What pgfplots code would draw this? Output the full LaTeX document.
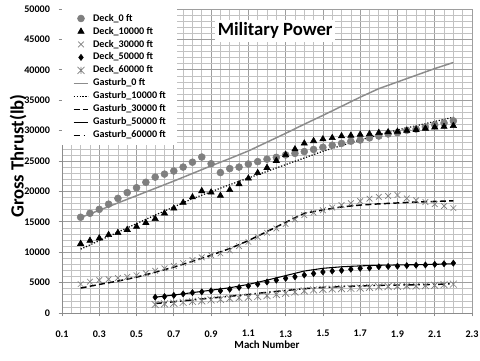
\documentclass[border=0pt]{standalone}
\usepackage{pgfplots}
\pgfplotsset{compat=1.18}
\usepackage{fontspec}
\setmainfont{Carlito}

% Excel-style "star" marker: an X crossed by a vertical stroke
\pgfdeclareplotmark{xstar}{%
  \pgfpathmoveto{\pgfqpoint{-\pgfplotmarksize}{-\pgfplotmarksize}}%
  \pgfpathlineto{\pgfqpoint{\pgfplotmarksize}{\pgfplotmarksize}}%
  \pgfpathmoveto{\pgfqpoint{-\pgfplotmarksize}{\pgfplotmarksize}}%
  \pgfpathlineto{\pgfqpoint{\pgfplotmarksize}{-\pgfplotmarksize}}%
  \pgfpathmoveto{\pgfqpoint{0pt}{-\pgfplotmarksize}}%
  \pgfpathlineto{\pgfqpoint{0pt}{\pgfplotmarksize}}%
  \pgfusepathqstroke}

\definecolor{markgray}{HTML}{7F7F7F}
\definecolor{linegray}{HTML}{8C8C8C}

% Deck results (Mach, gross thrust in lb)
\pgfplotstableread{
M T
0.20 15750
0.25 16400
0.30 17050
0.35 17900
0.40 18850
0.45 19800
0.50 20600
0.55 21500
0.60 22350
0.65 22850
0.70 23350
0.75 24000
0.80 24800
0.85 25650
0.90 24550
0.95 23100
1.00 23750
1.05 24000
1.10 24500
1.15 24900
1.20 25300
1.25 25600
1.30 26000
1.35 26250
1.40 26550
1.45 26900
1.50 27250
1.55 27600
1.60 27900
1.65 28250
1.70 28450
1.75 28800
1.80 29100
1.85 29450
1.90 29650
1.95 30050
2.00 30250
2.05 30600
2.10 30950
2.15 31250
2.20 31600
}\deckzero

\pgfplotstableread{
M T
0.20 11400
0.25 11900
0.30 12300
0.35 12850
0.40 13200
0.45 13700
0.50 14200
0.55 14850
0.60 15500
0.65 16400
0.70 17200
0.75 18150
0.80 19050
0.85 20070
0.90 19850
0.95 19300
1.00 20250
1.05 21200
1.10 22150
1.15 23050
1.20 23900
1.25 25050
1.30 26000
1.35 26950
1.40 27900
1.45 28300
1.50 28600
1.55 28800
1.60 29100
1.65 29200
1.70 29350
1.75 29450
1.80 29650
1.85 29750
1.90 29850
1.95 30000
2.00 30150
2.05 30350
2.10 30550
2.15 30650
2.20 30800
}\deckten

\pgfplotstableread{
M T
0.20 4750
0.25 5150
0.30 5400
0.35 5550
0.40 5750
0.45 5950
0.50 6200
0.55 6550
0.60 6950
0.65 7350
0.70 7750
0.75 8200
0.80 8700
0.85 9150
0.90 9500
0.95 9800
1.00 10300
1.05 11000
1.10 11700
1.15 12500
1.20 13200
1.25 13900
1.30 14650
1.35 15400
1.40 16100
1.45 16500
1.50 16900
1.55 17350
1.60 17750
1.65 18050
1.70 18400
1.75 18800
1.80 19100
1.85 19250
1.90 19400
1.95 18850
2.00 18550
2.05 18250
2.10 17900
2.15 17600
2.20 17250
}\deckthirty

\pgfplotstableread{
M T
0.60 2600
0.65 2700
0.70 2900
0.75 3150
0.80 3350
0.85 3480
0.90 3650
0.95 3650
1.00 3900
1.05 4200
1.10 4450
1.15 4750
1.20 5100
1.25 5400
1.30 5700
1.35 5950
1.40 6250
1.45 6500
1.50 6750
1.55 6900
1.60 7000
1.65 7200
1.70 7350
1.75 7400
1.80 7600
1.85 7650
1.90 7700
1.95 7800
2.00 7850
2.05 7900
2.10 8000
2.15 8100
2.20 8200
}\deckfifty

\pgfplotstableread{
M T
0.60 1400
0.65 1500
0.70 1600
0.75 1750
0.80 1900
0.85 2000
0.90 2150
0.95 2250
1.00 2400
1.05 2500
1.10 2600
1.15 2700
1.20 2850
1.25 3050
1.30 3250
1.35 3450
1.40 3650
1.45 3800
1.50 3900
1.55 3950
1.60 4000
1.65 4050
1.70 4100
1.75 4200
1.80 4300
1.85 4350
1.90 4400
1.95 4450
2.00 4450
2.05 4500
2.10 4550
2.15 4650
2.20 4750
}\decksixty

% Gasturb model curves
\pgfplotstableread{
M T0 T10 T30
0.2 15700 10500 4100
0.3 16900 11900 4700
0.4 18100 13300 5250
0.5 19300 14700 5900
0.6 20500 16100 6700
0.7 21700 17450 7550
0.8 22950 18800 8500
0.9 24200 19950 9500
1.0 25400 21100 10600
1.1 26650 22200 11900
1.2 28100 23300 13400
1.3 29550 24400 14900
1.4 31050 25500 16400
1.5 32500 26600 16950
1.6 34000 27550 17450
1.7 35500 28450 17750
1.8 36900 29300 17950
1.9 38000 30100 18100
2.0 39100 30800 18250
2.1 40200 31500 18350
2.2 41200 32200 18450
}\gasturbhigh

\pgfplotstableread{
M T50 T60
0.6 2600 1550
0.7 2950 1850
0.8 3350 2150
0.9 3750 2450
1.0 4150 2750
1.1 4700 3050
1.2 5400 3400
1.3 6150 3700
1.4 6900 4000
1.5 7350 4200
1.6 7600 4350
1.7 7750 4450
1.8 7850 4550
1.9 7900 4600
2.0 7950 4650
2.1 8000 4700
2.2 8100 4800
}\gasturblow

\begin{document}
\begin{tikzpicture}
\begin{axis}[
  scale only axis,
  width=307.5pt, height=228pt,
  xmin=0.1, xmax=2.3, ymin=0, ymax=50000,
  xtick={0.1,0.3,...,2.31},
  ytick={0,5000,...,50000},
  scaled y ticks=false,
  minor x tick num=3,
  minor y tick num=4,
  grid=both,
  major grid style={draw=black!38, line width=0.5pt},
  minor grid style={draw=black!24, line width=0.5pt},
  axis x line*=bottom, axis y line*=left,
  axis line style={draw=black!45, line width=0.6pt, -},
  tick align=outside,
  major tick length=2.5pt,
  minor tick length=0pt,
  tick style={draw=black!45, line width=0.6pt},
  /pgf/number format/assume math mode=true,
  xticklabel style={/pgf/number format/.cd, fixed, fixed zerofill, precision=1, /tikz/.cd, yshift=-7pt},
  yticklabel style={/pgf/number format/.cd, fixed, 1000 sep={}, /tikz/.cd, xshift=-3pt},
  tick label style={font=\bfseries\fontsize{7.6}{9}\selectfont},
  xlabel={Mach Number},
  xlabel style={font=\bfseries\fontsize{8.2}{9}\selectfont, at={(axis description cs:0.5,-0.105)}, anchor=center},
  ylabel={Gross Thrust(lb)},
  ylabel style={font=\bfseries\fontsize{14}{16}\selectfont, at={(axis description cs:-0.107,0.516)}, anchor=center},
  legend style={at={(0,1)}, anchor=north west, draw=none, fill=white,
    font=\bfseries\fontsize{7.6}{8}\selectfont, row sep=1.9pt,
    nodes={inner sep=0.5pt},
    /tikz/every odd column/.append style={column sep=2.5pt},
    inner xsep=8pt, inner ysep=3pt},
  legend cell align=left,
  legend image code/.code={\draw[mark repeat=2, mark phase=2] plot coordinates {(0pt,0pt) (5.5pt,0pt) (11pt,0pt)};},
  clip=false,
]
\addplot[only marks, mark=*, mark size=2.6pt, draw=markgray, fill=markgray] table[x=M, y=T] {\deckzero};
\addlegendentry{Deck\_0 ft}
\addplot[only marks, mark=triangle*, mark size=2.7pt, draw=black, fill=black] table[x=M, y=T] {\deckten};
\addlegendentry{Deck\_10000 ft}
\addplot[only marks, mark=x, mark size=3pt, draw=markgray, line width=0.5pt] table[x=M, y=T] {\deckthirty};
\addlegendentry{Deck\_30000 ft}
\addplot[only marks, mark=diamond*, mark size=2.3pt, draw=black, fill=black] table[x=M, y=T] {\deckfifty};
\addlegendentry{Deck\_50000 ft}
\addplot[only marks, mark=xstar, mark size=2.6pt, draw=markgray, line width=0.5pt] table[x=M, y=T] {\decksixty};
\addlegendentry{Deck\_60000 ft}
\addplot[no markers, draw=linegray, line width=1.1pt] table[x=M, y=T0] {\gasturbhigh};
\addlegendentry{Gasturb\_0 ft}
\addplot[no markers, draw=black, line width=0.9pt, dash pattern=on 0.9pt off 1.3pt] table[x=M, y=T10] {\gasturbhigh};
\addlegendentry{Gasturb\_10000 ft}
\addplot[no markers, draw=black, line width=1.1pt, dash pattern=on 4.5pt off 2.5pt] table[x=M, y=T30] {\gasturbhigh};
\addlegendentry{Gasturb\_30000 ft}
\addplot[no markers, draw=black, line width=0.8pt] table[x=M, y=T50] {\gasturblow};
\addlegendentry{Gasturb\_50000 ft}
\addplot[no markers, draw=black, line width=1.1pt, dash pattern=on 5pt off 2.5pt on 1.2pt off 2.5pt] table[x=M, y=T60] {\gasturblow};
\addlegendentry{Gasturb\_60000 ft}
\node[fill=white, inner sep=2pt, font=\bfseries\fontsize{14}{16}\selectfont]
  at (axis description cs:0.52,0.928) {Military Power};
\end{axis}
\pgfresetboundingbox
\path[use as bounding box] (-46.5pt,-36pt) rectangle (313.5pt,234.75pt);
\end{tikzpicture}
\end{document}
